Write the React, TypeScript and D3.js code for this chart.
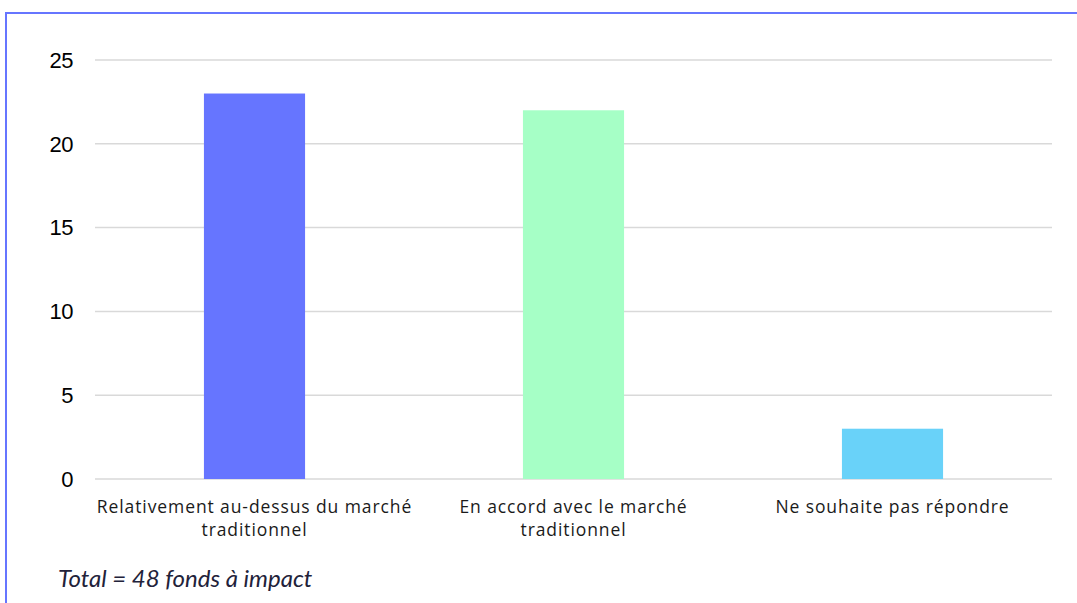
import React from "react";
import * as d3 from "d3";

const categories: string[][] = [
  ["Relativement au-dessus du marché", "traditionnel"],
  ["En accord avec le marché", "traditionnel"],
  ["Ne souhaite pas répondre"],
];
const values: number[] = [23, 22, 3];
const barColors: string[] = ["#6675ff", "#a6ffc6", "#69d2f9"];
const yTicks: number[] = [0, 5, 10, 15, 20, 25];
const footnote = "Total = 48 fonds à impact";

const W = 1077;
const H = 603;
const plot = { left: 95, right: 1052, top: 60, bottom: 479 };

export default function App() {
  const keys = categories.map((c) => c.join(" "));
  const x = d3
    .scaleBand<string>()
    .domain(keys)
    .range([plot.left, plot.right])
    .paddingInner(0.683)
    .paddingOuter(0.3415);
  const y = d3.scaleLinear().domain([0, 25]).range([plot.bottom, plot.top]);

  return (
    <svg
      width={W}
      height={H}
      style={{ position: "absolute", left: 0, top: 0, background: "#fff" }}
    >
      <rect x={0} y={0} width={W} height={H} fill="#fff" />
      {/* frame: top and left edges */}
      <line x1={6} y1={13} x2={W} y2={13} stroke="#6675ff" strokeWidth={2} />
      <line x1={6} y1={12} x2={6} y2={H} stroke="#6675ff" strokeWidth={2} />

      {yTicks.map((t) => (
        <g key={t}>
          <line
            x1={plot.left}
            x2={plot.right}
            y1={y(t)}
            y2={y(t)}
            stroke="#d9d9d9"
            strokeWidth={1.5}
          />
          <text
            x={73}
            y={y(t)}
            dy="0.35em"
            textAnchor="end"
            fontFamily="Liberation Sans, Arial, sans-serif"
            fontSize={22}
            letterSpacing={-0.5}
            fill="#000"
          >
            {t}
          </text>
        </g>
      ))}

      {values.map((v, i) => (
        <rect
          key={keys[i]}
          x={x(keys[i])}
          y={y(v)}
          width={x.bandwidth()}
          height={y(0) - y(v)}
          fill={barColors[i]}
        />
      ))}

      {categories.map((lines, i) => {
        const cx = (x(keys[i]) as number) + x.bandwidth() / 2;
        return (
          <text
            key={keys[i]}
            x={cx}
            y={513}
            textAnchor="middle"
            fontFamily="'Open Sans', Lato, sans-serif"
            fontSize={17.5}
            letterSpacing={0.9}
            fill="#1a1a1a"
          >
            {lines.map((l, j) => (
              <tspan key={j} x={cx} dy={j === 0 ? 0 : 23}>
                {l}
              </tspan>
            ))}
          </text>
        );
      })}

      <text
        x={58}
        y={587}
        fontFamily="Lato, 'Noto Sans', sans-serif"
        fontStyle="italic"
        fontSize={24}
        fill="#22223a"
      >
        {footnote}
      </text>
    </svg>
  );
}
